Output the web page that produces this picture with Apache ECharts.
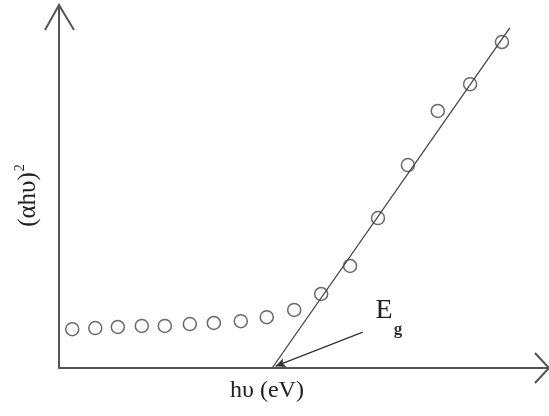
<!DOCTYPE html>
<html>
<head>
<meta charset="utf-8">
<script src="https://cdn.jsdelivr.net/npm/echarts@6/dist/echarts.min.js"></script>
<style>
  html, body { margin: 0; padding: 0; background: #fff; }
  #main { width: 549px; height: 416px; }
</style>
</head>
<body>
<div id="main"></div>
<script>
// measured points (arbitrary units, axes run 0..10)
var hv = [0.27, 0.74, 1.2, 1.69, 2.16, 2.67, 3.16, 3.71, 4.24, 4.8, 5.35, 5.94, 6.51, 7.12, 7.73, 8.39, 9.04];
var ahv2 = [1.07, 1.1, 1.13, 1.16, 1.16, 1.21, 1.24, 1.29, 1.4, 1.6, 2.04, 2.81, 4.13, 5.59, 7.08, 7.82, 8.98];
// fitted straight line (from band gap up)
var fitX = [4.35, 9.2];
var fitY = [0, 9.37];
// arrow pointing at Eg
var arrowFrom = [6.2, 0.99];
var arrowTo = [4.42, 0.05];

var axisColor = '#555';
var serif = '"Liberation Serif", "DejaVu Serif", serif';

var myChart = echarts.init(document.getElementById('main'));

var option = {
  animation: false,
  grid: { left: 59, right: 0, top: 5, bottom: 48 },
  xAxis: {
    type: 'value', min: 0, max: 10,
    splitLine: { show: false },
    axisTick: { show: false },
    axisLabel: { show: false },
    axisLine: { lineStyle: { color: axisColor, width: 2 } },
    name: 'hυ (eV)',
    nameLocation: 'middle',
    nameGap: 11,
    nameTextStyle: { fontFamily: serif, fontSize: 24, color: '#222', padding: [0, 74, 0, 0] }
  },
  yAxis: {
    type: 'value', min: 0, max: 10,
    splitLine: { show: false },
    axisTick: { show: false },
    axisLabel: { show: false },
    axisLine: { lineStyle: { color: axisColor, width: 2 } },
    name: '(αhυ){s|2}',
    nameLocation: 'middle',
    nameRotate: 90,
    nameGap: 16,
    nameTextStyle: {
      fontFamily: serif, fontSize: 25, color: '#222', padding: [0, 18, 0, 0],
      rich: {
        s: { fontFamily: serif, fontSize: 14, color: '#222', padding: [0, 0, 16, 1] }
      }
    }
  },
  series: [
    {
      type: 'scatter',
      data: hv.map(function (x, i) { return [x, ahv2[i]]; }),
      symbol: 'circle',
      symbolSize: 13,
      itemStyle: { color: 'transparent', borderColor: '#444', borderWidth: 1.5 },
      z: 3
    },
    {
      type: 'line',
      data: [[fitX[0], fitY[0]], [fitX[1], fitY[1]]],
      showSymbol: false,
      lineStyle: { color: '#444', width: 1.3 },
      markLine: {
        silent: true,
        symbol: ['none', 'arrow'],
        symbolSize: [7, 10],
        label: { show: false },
        lineStyle: { color: '#333', width: 1.3, type: 'solid' },
        data: [[{ coord: arrowFrom }, { coord: arrowTo }]]
      }
    }
  ]
};

myChart.setOption(option);

// open arrow heads at the ends of both axes, and the Eg label
var yTip = myChart.convertToPixel('grid', [0, 10]);
var xTip = myChart.convertToPixel('grid', [10, 0]);
var egPos = myChart.convertToPixel('grid', [6.46, 1.96]);
myChart.setOption({
  graphic: [
    {
      type: 'polyline',
      shape: { points: [[yTip[0] - 14, yTip[1] + 25], [yTip[0], yTip[1]], [yTip[0] + 15, yTip[1] + 25]] },
      style: { stroke: axisColor, lineWidth: 2, fill: null }
    },
    {
      type: 'polyline',
      shape: { points: [[xTip[0] - 14, xTip[1] - 15], [xTip[0], xTip[1]], [xTip[0] - 14, xTip[1] + 15]] },
      style: { stroke: axisColor, lineWidth: 2, fill: null }
    },
    {
      type: 'text',
      x: egPos[0], y: egPos[1],
      style: {
        text: '{e|E}{g|g}',
        rich: {
          e: { fontFamily: serif, fontSize: 28, fill: '#222', verticalAlign: 'top' },
          g: { fontFamily: serif, fontSize: 17, fontWeight: 'bold', fill: '#333', padding: [24, 0, 0, 1] }
        }
      }
    }
  ]
});
</script>
</body>
</html>
